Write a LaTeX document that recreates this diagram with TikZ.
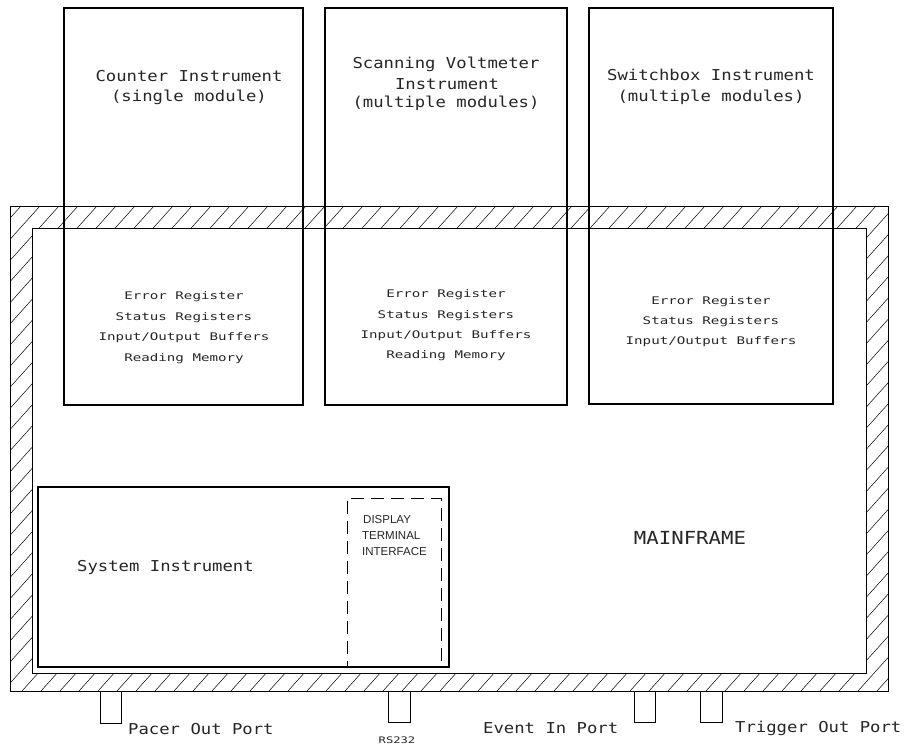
\documentclass[tikz,border=0pt]{standalone}
\usepackage{fontspec}
\setmainfont{Liberation Sans}
\newfontfamily\pf[FakeStretch=1.35]{DejaVu Sans Mono}
\newfontfamily\pfb[FakeStretch=1.15]{DejaVu Sans Mono}
\begin{document}
\begin{tikzpicture}[x=1pt,y=-1pt,
  instbox/.style={draw, line width=1.6pt, inner sep=0pt, outer sep=0pt},
  dispbox/.style={draw, line width=0.9pt, dash pattern=on 13pt off 7pt, inner sep=0pt, outer sep=0pt},
  wall/.style={draw, line width=0.7pt},
  hatch/.style={line width=0.5pt},
  port/.style={line width=0.7pt},
  big/.style={font=\pfb\fontsize{15}{17}\selectfont, inner sep=0pt, text=black!85},
  reg/.style={font=\pf\fontsize{10.5}{12}\selectfont, inner sep=0pt, text=black!85},
  mainlbl/.style={font=\pfb\fontsize{18}{20}\selectfont, inner sep=0pt, text=black!85},
  smallcap/.style={font=\fontsize{11.5}{13}\selectfont, inner sep=0pt, text=black!85},
  rslbl/.style={font=\pf\fontsize{9}{10}\selectfont, inner sep=0pt, text=black!85}]
\useasboundingbox (0,0) rectangle (922,744);
\fill[white] (0,0) rectangle (922,744);

% hatched mainframe wall
\begin{scope}[even odd rule]
  \clip (10,206) rectangle (888,691) (32,228) rectangle (866,673);
  \foreach \i in {-700,-681,...,900}
    \draw[hatch] (\i,691) -- ++(436,-485);
\end{scope}
\draw[wall] (10,206) rectangle (888,691);
\draw[wall] (32,228) rectangle (866,673);

% instrument boxes
\node[instbox, minimum width=239pt, minimum height=397pt] (counter) at (183.5,206.5) {};
\node[instbox, minimum width=242pt, minimum height=397pt] (volt) at (446,206.5) {};
\node[instbox, minimum width=244pt, minimum height=396pt] (switch) at (711,206) {};
\node[instbox, minimum width=411pt, minimum height=180pt] (system) at (243.5,577) {};
\node[dispbox, minimum width=94pt, minimum height=169pt] (display) at (394,582.5) {};

% titles
\node[big] (c1) at (189,76) {Counter Instrument};
\node[big] (c2) at (189,97) {(single module)};
\node[big] (v1) at (446,64) {Scanning Voltmeter};
\node[big] (v2) at (447,84) {Instrument};
\node[big] (v3) at (446,103) {(multiple modules)};
\node[big] (s1) at (711,75) {Switchbox Instrument};
\node[big] (s2) at (711,97) {(multiple modules)};

% register lists
\node[reg] (cr1) at (184,297) {Error Register};
\node[reg] (cr2) at (184,318) {Status Registers};
\node[reg] (cr3) at (184,338) {Input/Output Buffers};
\node[reg] (cr4) at (184,359) {Reading Memory};
\node[reg] (vr1) at (446,295) {Error Register};
\node[reg] (vr2) at (446,316) {Status Registers};
\node[reg] (vr3) at (446,336) {Input/Output Buffers};
\node[reg] (vr4) at (446,356) {Reading Memory};
\node[reg] (sr1) at (711,302) {Error Register};
\node[reg] (sr2) at (711,322) {Status Registers};
\node[reg] (sr3) at (711,342) {Input/Output Buffers};

% system instrument
\node[big, anchor=west] (sys) at (77,567) {System Instrument};
\node[smallcap, anchor=west] (d1) at (363,520) {DISPLAY};
\node[smallcap, anchor=west] (d2) at (362,535.5) {TERMINAL};
\node[smallcap, anchor=west] (d3) at (362,552) {INTERFACE};
\node[mainlbl] (mf) at (690,538) {MAINFRAME};

% ports
\draw[port] (100,691) -- (100,723) -- (121,723) -- (121,691);
\draw[port] (388,691) -- (388,722) -- (410,722) -- (410,691);
\draw[port] (634,691) -- (634,722) -- (655,722) -- (655,691);
\draw[port] (700,691) -- (700,722) -- (722,722) -- (722,691);
\node[big, anchor=west] (p1) at (128,729) {Pacer Out Port};
\node[rslbl] (p2) at (397,740) {RS232};
\node[big, anchor=west] (p3) at (483,728) {Event In Port};
\node[big, anchor=west] (p4) at (735,728) {Trigger Out Port};
\end{tikzpicture}
\end{document}
